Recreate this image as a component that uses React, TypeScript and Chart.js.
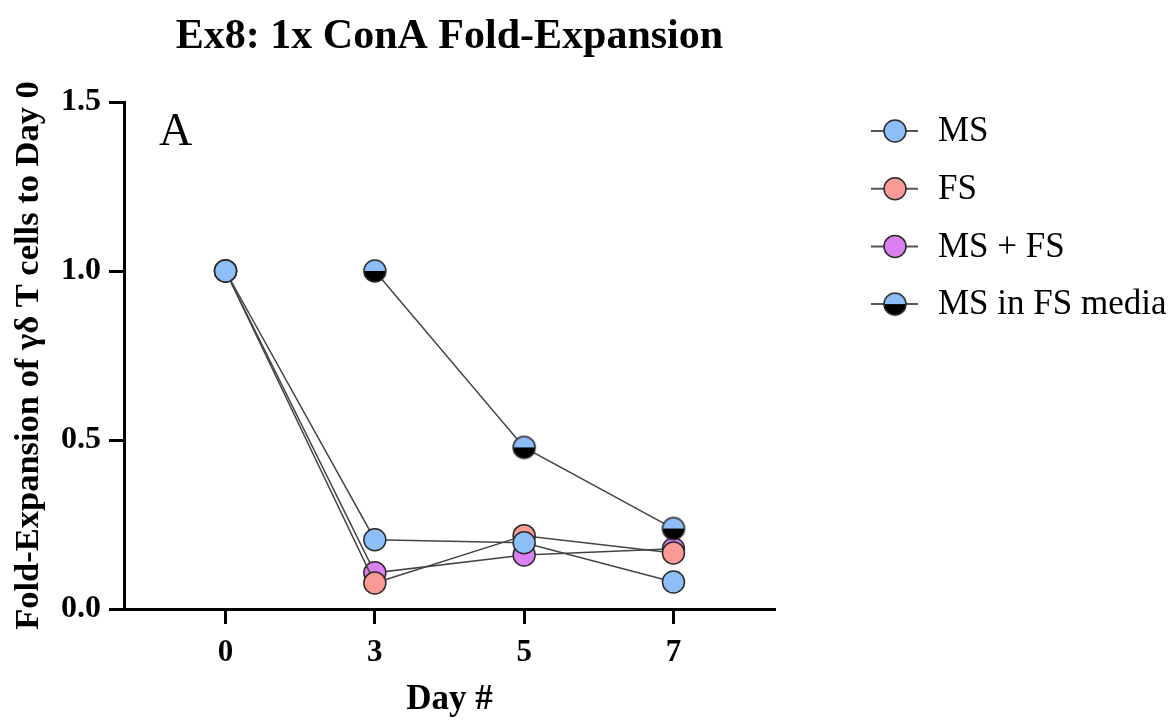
import React, { useEffect, useRef } from 'react';
import { Chart, registerables } from 'chart.js';

Chart.register(...registerables);

// ---- data ----
const dayLabels = ['0', '3', '5', '7'];
const seriesNames = ['MS', 'FS', 'MS + FS', 'MS in FS media'];
const msValues = [1.0, 0.205, 0.196, 0.08];
const fsValues = [1.0, 0.077, 0.217, 0.166];
const msFsValues = [1.0, 0.107, 0.16, 0.178];
const msInFsValues: (number | null)[] = [null, 1.0, 0.478, 0.238];
const yTickValues = [0, 0.5, 1.0, 1.5];

// ---- styles ----
const SERIF = '"Liberation Serif", "Times New Roman", serif';
const BLUE = '#8dbef7';
const PINK = '#f99a95';
const PURPLE = '#da80f1';
const LINE = '#444444';
const EDGE = '#2a2a2a';
const R = 11;

function halfMarker(r: number, top: string, bottom: string): HTMLCanvasElement {
  const size = Math.ceil(r * 2 + 4);
  const c = document.createElement('canvas');
  c.width = size;
  c.height = size;
  const ctx = c.getContext('2d')!;
  const cx = size / 2;
  const cy = size / 2;
  ctx.beginPath();
  ctx.arc(cx, cy, r, Math.PI, 0);
  ctx.closePath();
  ctx.fillStyle = top;
  ctx.fill();
  ctx.beginPath();
  ctx.arc(cx, cy, r, 0, Math.PI);
  ctx.closePath();
  ctx.fillStyle = bottom;
  ctx.fill();
  ctx.beginPath();
  ctx.arc(cx, cy, r, 0, Math.PI * 2);
  ctx.lineWidth = 1.5;
  ctx.strokeStyle = EDGE;
  ctx.stroke();
  return c;
}

const toPoints = (vals: (number | null)[]) =>
  vals.map((v, i) => ({ x: i, y: v }));

// Panel letter and side legend drawn on the canvas
const annotations = {
  id: 'panelAndLegend',
  afterDraw(chart: any) {
    const { ctx, chartArea } = chart;
    ctx.save();
    ctx.fillStyle = '#000';
    ctx.font = `46px ${SERIF}`;
    ctx.textBaseline = 'alphabetic';
    ctx.textAlign = 'left';
    ctx.fillText('A', chartArea.left + 35, chartArea.top + 43);

    const lineX0 = chartArea.right + 96;
    const lineX1 = chartArea.right + 143;
    const markX = chartArea.right + 120;
    const textX = chartArea.right + 163;
    chart.data.datasets.forEach((ds: any, i: number) => {
      const y = chartArea.top + 29 + i * 57.7;
      ctx.beginPath();
      ctx.moveTo(lineX0, y);
      ctx.lineTo(lineX1, y);
      ctx.lineWidth = 2;
      ctx.strokeStyle = '#555';
      ctx.stroke();
      if (ds.pointStyle instanceof HTMLCanvasElement) {
        const img = ds.pointStyle as HTMLCanvasElement;
        ctx.drawImage(img, markX - img.width / 2, y - img.height / 2);
      } else {
        ctx.beginPath();
        ctx.arc(markX, y, R, 0, Math.PI * 2);
        ctx.fillStyle = ds.pointBackgroundColor;
        ctx.fill();
        ctx.lineWidth = 1.5;
        ctx.strokeStyle = EDGE;
        ctx.stroke();
      }
      ctx.fillStyle = '#000';
      ctx.font = `35px ${SERIF}`;
      ctx.textBaseline = 'middle';
      ctx.fillText(ds.label, textX, y + 1);
    });
    ctx.restore();
  },
};

export default function App() {
  const canvasRef = useRef<HTMLCanvasElement | null>(null);

  useEffect(() => {
    document.body.style.margin = '0';
    const canvas = canvasRef.current;
    if (!canvas) return;

    const common = {
      showLine: true,
      borderColor: LINE,
      borderWidth: 1.5,
      pointRadius: R,
      pointHoverRadius: R,
      pointBorderColor: EDGE,
      pointBorderWidth: 1.5,
      fill: false,
      tension: 0,
    };

    const tickFont = { family: SERIF, size: 31, weight: 'bold' as const };
    const gridStyle = {
      drawOnChartArea: false,
      drawTicks: true,
      tickLength: 15,
      tickWidth: 3,
      tickColor: '#000',
    };
    const borderStyle = { display: true, width: 3, color: '#000' };

    const chart = new Chart(canvas, {
      type: 'line',
      data: {
        datasets: [
          { ...common, label: seriesNames[0], data: toPoints(msValues), pointBackgroundColor: BLUE, backgroundColor: BLUE, order: 1 },
          { ...common, label: seriesNames[1], data: toPoints(fsValues), pointBackgroundColor: PINK, backgroundColor: PINK, order: 2 },
          { ...common, label: seriesNames[2], data: toPoints(msFsValues), pointBackgroundColor: PURPLE, backgroundColor: PURPLE, order: 3 },
          { ...common, label: seriesNames[3], data: toPoints(msInFsValues), pointStyle: halfMarker(R, BLUE, '#000'), backgroundColor: '#000', order: 0 },
        ] as any,
      },
      options: {
        animation: false,
        responsive: false,
        events: [],
        layout: { padding: { left: 0, right: 399, top: 0, bottom: 0 } },
        plugins: {
          legend: { display: false },
          tooltip: { enabled: false },
          title: {
            display: true,
            fullSize: false,
            text: 'Ex8: 1x ConA Fold-Expansion',
            color: '#000',
            font: { family: SERIF, size: 42, weight: 'bold' },
            padding: { top: 12, bottom: 39.6 },
          },
        },
        scales: {
          x: {
            type: 'linear',
            min: -0.68,
            max: 3.68,
            afterBuildTicks: (s: any) => {
              s.ticks = dayLabels.map((_, i) => ({ value: i }));
            },
            afterFit: (s: any) => {
              s.height = 112;
            },
            ticks: {
              callback: (v: any) => dayLabels[v] ?? '',
              color: '#000',
              font: tickFont,
              padding: 10,
              autoSkip: false,
              maxRotation: 0,
            },
            grid: gridStyle,
            border: borderStyle,
            title: {
              display: true,
              text: 'Day #',
              color: '#000',
              font: { family: SERIF, size: 35, weight: 'bold' },
              padding: { top: 0, bottom: 0 },
            },
          },
          y: {
            type: 'linear',
            min: 0,
            max: 1.5,
            afterBuildTicks: (s: any) => {
              s.ticks = yTickValues.map((v) => ({ value: v }));
            },
            afterFit: (s: any) => {
              s.width = 124;
            },
            ticks: {
              callback: (v: any) => Number(v).toFixed(1),
              color: '#000',
              font: { family: SERIF, size: 32, weight: 'bold' },
              padding: 8,
            },
            grid: gridStyle,
            border: borderStyle,
            title: {
              display: true,
              text: 'Fold-Expansion of γδ T cells to Day 0',
              color: '#000',
              font: { family: SERIF, size: 34.5, weight: 'bold' },
              padding: { top: 8, bottom: 0 },
            },
          },
        },
      } as any,
      plugins: [annotations],
    });

    return () => chart.destroy();
  }, []);

  return (
    <div style={{ position: 'relative', width: 1174, height: 721, background: '#fff' }}>
      <canvas ref={canvasRef} width={1174} height={721} />
    </div>
  );
}
